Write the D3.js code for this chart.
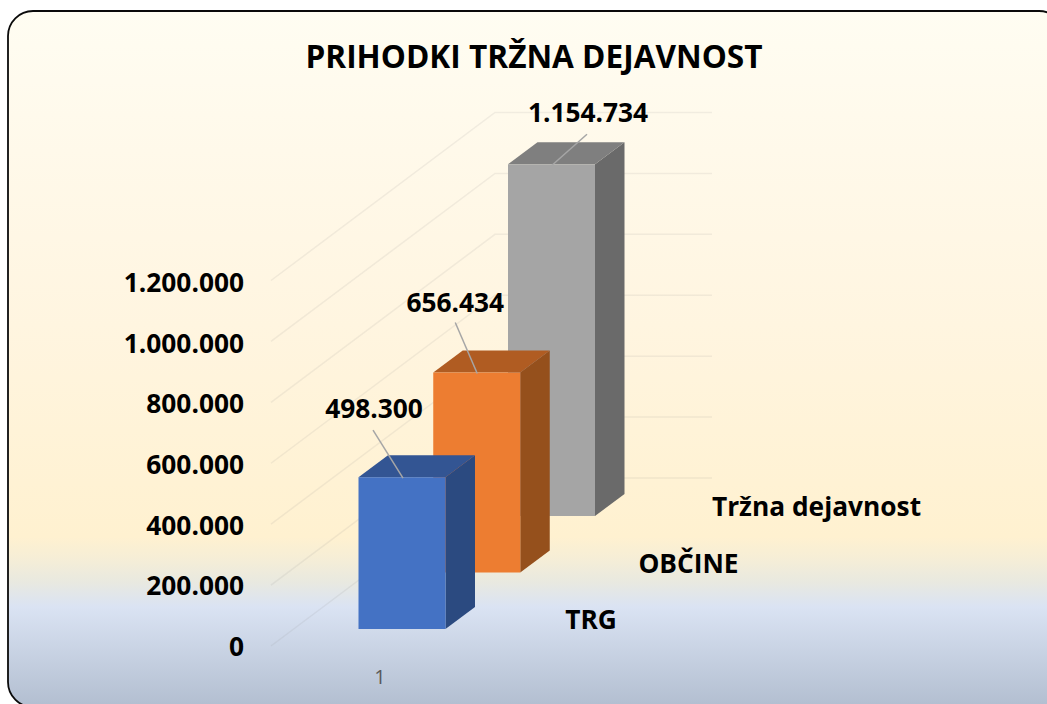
<!DOCTYPE html>
<html><head><meta charset="utf-8">
<script src="https://d3js.org/d3.v7.min.js"></script>
<style>html,body{margin:0;padding:0;background:#fff;overflow:hidden}svg{display:block}text{font-family:"Open Sans",Lato,sans-serif}</style>
</head><body><div id="c"></div>
<script>
const title = "PRIHODKI TRŽNA DEJAVNOST";
const seriesNames = ["TRG", "OBČINE", "Tržna dejavnost"];
const seriesValues = [498300, 656434, 1154734];
const tickValues = [0, 200000, 400000, 600000, 800000, 1000000, 1200000];
const categoryLabels = ["1"];
const frontColors = ["#4472c4", "#ed7d31", "#a5a5a5"];
const sideColors = ["#2b4a80", "#95501c", "#6a6a6a"];
const topColors = ["#335593", "#b05c22", "#7f7f7f"];

const W = 1047, H = 704;
const FS = 26.3;
const svg = d3.select("#c").append("svg").attr("width", W).attr("height", H);
const defs = svg.append("defs");
const grad = defs.append("linearGradient").attr("id", "bg").attr("x1", 0).attr("x2", 0).attr("y1", 0).attr("y2", 1);
[[0, "#fffdf2"], [0.2, "#fff9ea"], [0.45, "#fff5e0"], [0.755, "#fff1d0"], [0.785, "#f6eed6"], [0.82, "#e9e9e0"], [0.856, "#dae3f3"], [1, "#b2bed0"]]
  .forEach(([o, c]) => grad.append("stop").attr("offset", o).attr("stop-color", c));
svg.append("rect").attr("x", 8).attr("y", 11).attr("width", 1056).attr("height", 696).attr("rx", 25)
  .attr("fill", "url(#bg)").attr("stroke", "#0a0a0a").attr("stroke-width", 1.8);

// value scales
const axisY = d3.scaleLinear().domain([0, 1200000]).range([647, 283]);
const h = d3.scaleLinear().domain([0, 1200000]).range([0, 365.5]);
// series depth scales (position of each bar's front-bottom-left corner)
const depthX = d3.scaleLinear().domain([0, 2]).range([358.5, 508]);
const depthY = d3.scaleLinear().domain([0, 2]).range([629, 516]);
const barW = 87, dx = 29.5, dy = 22;

// gridlines: side wall + back wall
const grid = svg.append("g").attr("fill", "none").attr("stroke", "#8c8c8c").attr("stroke-opacity", 0.12).attr("stroke-width", 1.5);
tickValues.forEach(t => {
  const yh = h(t);
  grid.append("path").attr("d", d3.line()([[271, 646 - yh], [495, 478 - yh], [712, 478 - yh]]));
});

// bars, back to front
const order = d3.range(seriesValues.length).reverse();
const bars = svg.append("g").selectAll("g").data(order).join("g");
bars.each(function (i) {
  const g = d3.select(this), x = depthX(i), yb = depthY(i), ht = h(seriesValues[i]), yt = yb - ht;
  const line = d3.line();
  g.append("path").attr("fill", sideColors[i]).attr("d", line([[x + barW, yt], [x + barW + dx, yt - dy], [x + barW + dx, yb - dy], [x + barW, yb]]) + "Z");
  g.append("path").attr("fill", topColors[i]).attr("d", line([[x, yt], [x + dx, yt - dy], [x + barW + dx, yt - dy], [x + barW, yt]]) + "Z");
  g.append("rect").attr("x", x).attr("y", yt).attr("width", barW).attr("height", ht).attr("fill", frontColors[i]);
});

// data labels and leader lines
const fmt = d3.formatLocale({ decimal: ",", thousands: ".", grouping: [3], currency: ["", ""] }).format(",d");
const labelOffsets = [[15.5, -68], [22, -70], [80, -51]];
const leaderEnd = [[14.5, -47], [22, -50], [79, -30]];
const leaderStart = [[44.5, 1], [44, 1], [44, 1]];
seriesValues.forEach((v, i) => {
  const x = depthX(i), yt = depthY(i) - h(v);
  svg.append("line").attr("x1", x + leaderStart[i][0]).attr("y1", yt + leaderStart[i][1])
    .attr("x2", x + leaderEnd[i][0]).attr("y2", yt + leaderEnd[i][1])
    .attr("stroke", "#a6a6a6").attr("stroke-width", 1.5);
  svg.append("text").attr("x", x + labelOffsets[i][0]).attr("y", yt + labelOffsets[i][1]).attr("dy", "0.35em")
    .attr("text-anchor", "middle").attr("font-size", FS).attr("font-weight", 700).attr("fill", "#000").text(fmt(v));
});

// value axis
const axis = d3.axisLeft(axisY).tickValues(tickValues).tickFormat(fmt).tickSize(0).tickPadding(0);
const ag = svg.append("g").attr("transform", "translate(244,0)").call(axis);
ag.select(".domain").remove();
ag.selectAll("text").attr("font-size", FS).attr("font-weight", 700).attr("fill", "#000").style("font-family", "'Open Sans',Lato,sans-serif");

// series axis labels
const serX = [591, 688.5, 816.5], serY = [619.5, 564, 507];
seriesNames.forEach((n, i) => svg.append("text").attr("x", serX[i]).attr("y", serY[i]).attr("dy", "0.35em")
  .attr("text-anchor", "middle").attr("font-size", FS).attr("font-weight", 700).attr("fill", "#000").text(n));

// category label
svg.append("text").attr("x", 380).attr("y", 677).attr("dy", "0.35em").attr("text-anchor", "middle")
  .attr("font-size", 20).attr("fill", "#595959").text(categoryLabels[0]);

// title
svg.append("text").attr("x", 534).attr("y", 57).attr("dy", "0.35em").attr("text-anchor", "middle")
  .attr("font-size", 31.6).attr("font-weight", 700).attr("fill", "#000").text(title);
</script></body></html>
